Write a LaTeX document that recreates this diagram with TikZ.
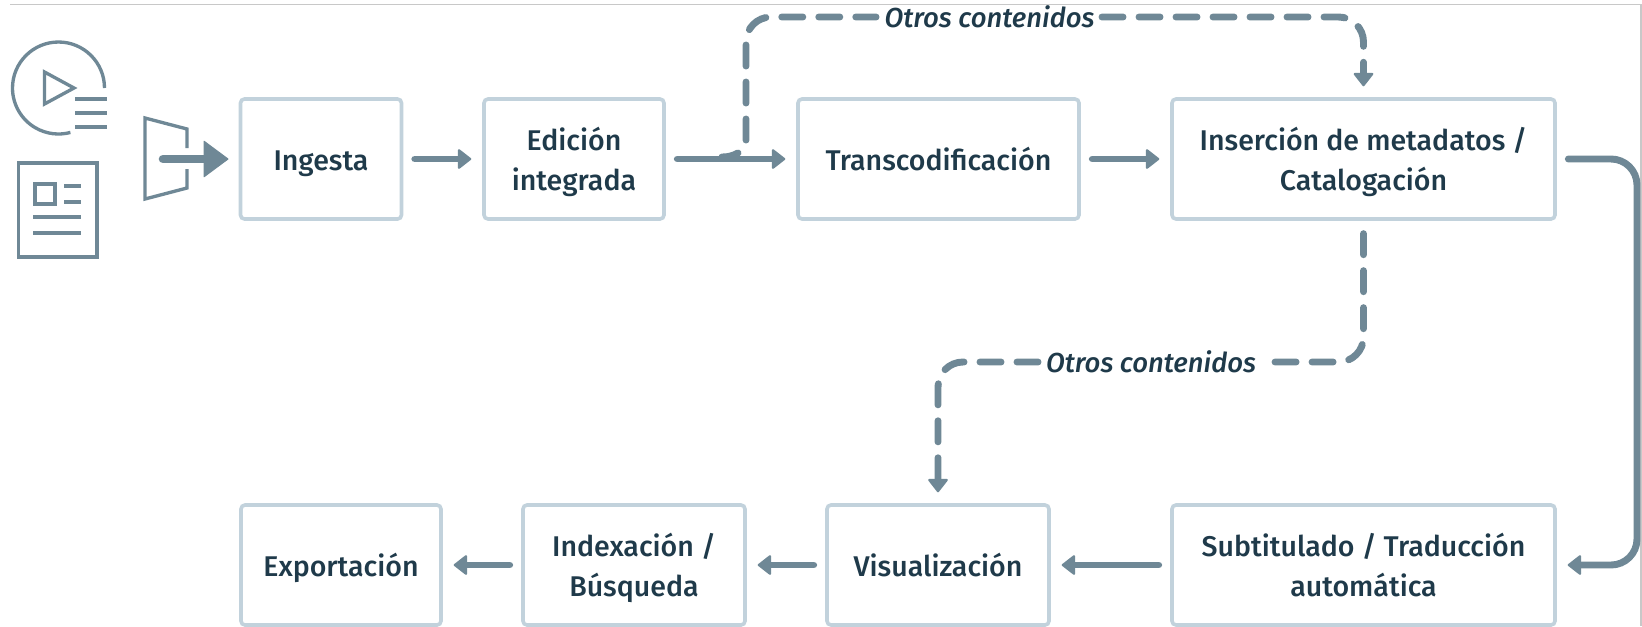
\documentclass[tikz,border=0pt]{standalone}
\usepackage{fontspec}
\setmainfont[UprightFont=* Medium,ItalicFont=* Medium Italic]{Fira Sans}
\usetikzlibrary{arrows.meta,calc}
\definecolor{flow}{HTML}{6F8896}
\definecolor{boxline}{HTML}{C2D2DC}
\definecolor{ink}{HTML}{1F3A4A}
\definecolor{frameline}{HTML}{C8C8C8}
\newcommand\bs{\rule[-6pt]{0pt}{28.5pt}}
\tikzset{
  boxnode/.style={draw=boxline,line width=2.7pt,rounded corners=3pt,outer sep=0pt,inner sep=0pt,
    minimum height=90pt,align=center,text=ink,font=\fontsize{21.4}{30}\selectfont},
  tipped/.style={-{Triangle[length=10.5pt,width=16pt,round,line width=1.5pt]}},
  flowline/.style={draw=flow,line width=5.2pt,line cap=round,shorten <=10pt,shorten >=9.5pt,tipped},
  dashplain/.style={draw=flow,line width=5.2pt,line cap=round,dash pattern=on 15.75pt off 12pt,rounded corners=18.75pt},
  dashline/.style={dashplain,shorten >=9.5pt,tipped},
  bendline/.style={flowline,rounded corners=19.5pt},
  biglabel/.style={font=\fontsize{20.6}{24}\selectfont\itshape,text=ink,inner sep=0pt,outer sep=0pt},
  iconline/.style={draw=flow,line width=2.5pt},
}
\begin{document}
\begin{tikzpicture}[x=0.75pt,y=-0.75pt]
\useasboundingbox (0,0) rectangle (1642,626);
\fill[white] (0,0) rectangle (1642,626);
\draw[frameline,line width=0.9pt] (10,4.5) -- (1641,4.5) -- (1641,626);

% boxes
\node[boxnode,minimum width=120.75pt] (ing) at (321,159) {\bs Ingesta};
\node[boxnode,minimum width=135pt] (edi) at (574,159) {\bs Edición\\\bs integrada};
\node[boxnode,minimum width=210.75pt] (tra) at (938.5,159) {\bs Transcodificación};
\node[boxnode,minimum width=287.25pt] (ins) at (1363.5,159) {\bs Inserción de metadatos /\\\bs Catalogación};
\node[boxnode,minimum width=150pt] (exp) at (341,565) {\bs Exportación};
\node[boxnode,minimum width=166.5pt] (idx) at (634,565) {\bs Indexación /\\\bs Búsqueda};
\node[boxnode,minimum width=166.5pt] (vis) at (938,565) {\bs Visualización};
\node[boxnode,minimum width=287.25pt] (sub) at (1363.5,565) {\bs Subtitulado / Traducción\\\bs automática};

% labels
\node[biglabel] (lab1) at (989.5,17) {Otros contenidos};
\node[biglabel] (lab2) at (1151,362) {Otros contenidos};

% solid connectors
\draw[flowline] (ing) -- (edi);
\draw[flowline] (edi) -- (tra);
\draw[flowline] (tra) -- (ins);
\draw[flowline] (sub) -- (vis);
\draw[flowline] (vis) -- (idx);
\draw[flowline] (idx) -- (exp);
\coordinate (rightbend) at (1637,360);
\draw[bendline] (ins.east) -- (ins.east -| rightbend) -- (sub.east -| rightbend) -- (sub.east);

% dashed connectors
\coordinate (topstart) at (746,140);
\coordinate (laboneleft) at (876,17);
\coordinate (laboneright) at (1102,17);
\coordinate (labtworight) at (1275,362);
\coordinate (labtwoleft) at (1038,362);
\draw[dashplain] (topstart) -- (topstart |- laboneleft) -- (laboneleft);
\draw[dashline] (laboneright) -- (ins.north |- laboneright) -- (ins.north);
\draw[dashplain,shorten <=11pt] (ins.south) -- (ins.south |- labtworight) -- (labtworight);
\draw[dashline] (labtwoleft) -- (vis.north |- labtwoleft) -- (vis.north);
\coordinate (fillet) at (722,157);
\draw[draw=flow,line width=5.2pt,line cap=round] (fillet) .. controls (730,157) and (734,155) .. (738,153);

% icon: video
\draw[iconline] (104.5,88) arc[start angle=0,end angle=285,radius=34.5pt];
\draw[iconline,line join=miter] (44.5,72) -- (74,88) -- (44.5,104) -- cycle;
\draw[iconline] (75,99) -- (107,99) (75,113) -- (107,113) (75,127) -- (107,127);
% icon: document
\draw[iconline] (18.5,163) rectangle (97,257);
\draw[iconline] (35,184) rectangle (55,204);
\draw[iconline] (64,186) -- (81,186) (64,202) -- (81,202) (33,217) -- (81,217) (33,233) -- (81,233);
% icon: door
\draw[iconline] (187,148) -- (187,129) -- (145,118) -- (145,199) -- (187,188) -- (187,169);
% entry arrow
\coordinate (doorin) at (163,159);
\draw[draw=flow,line width=6.4pt,line cap=round,shorten >=9pt,-{Triangle[length=19pt,width=28pt,round,line width=0.8pt]}] (doorin) -- (ing.west);
\end{tikzpicture}
\end{document}
